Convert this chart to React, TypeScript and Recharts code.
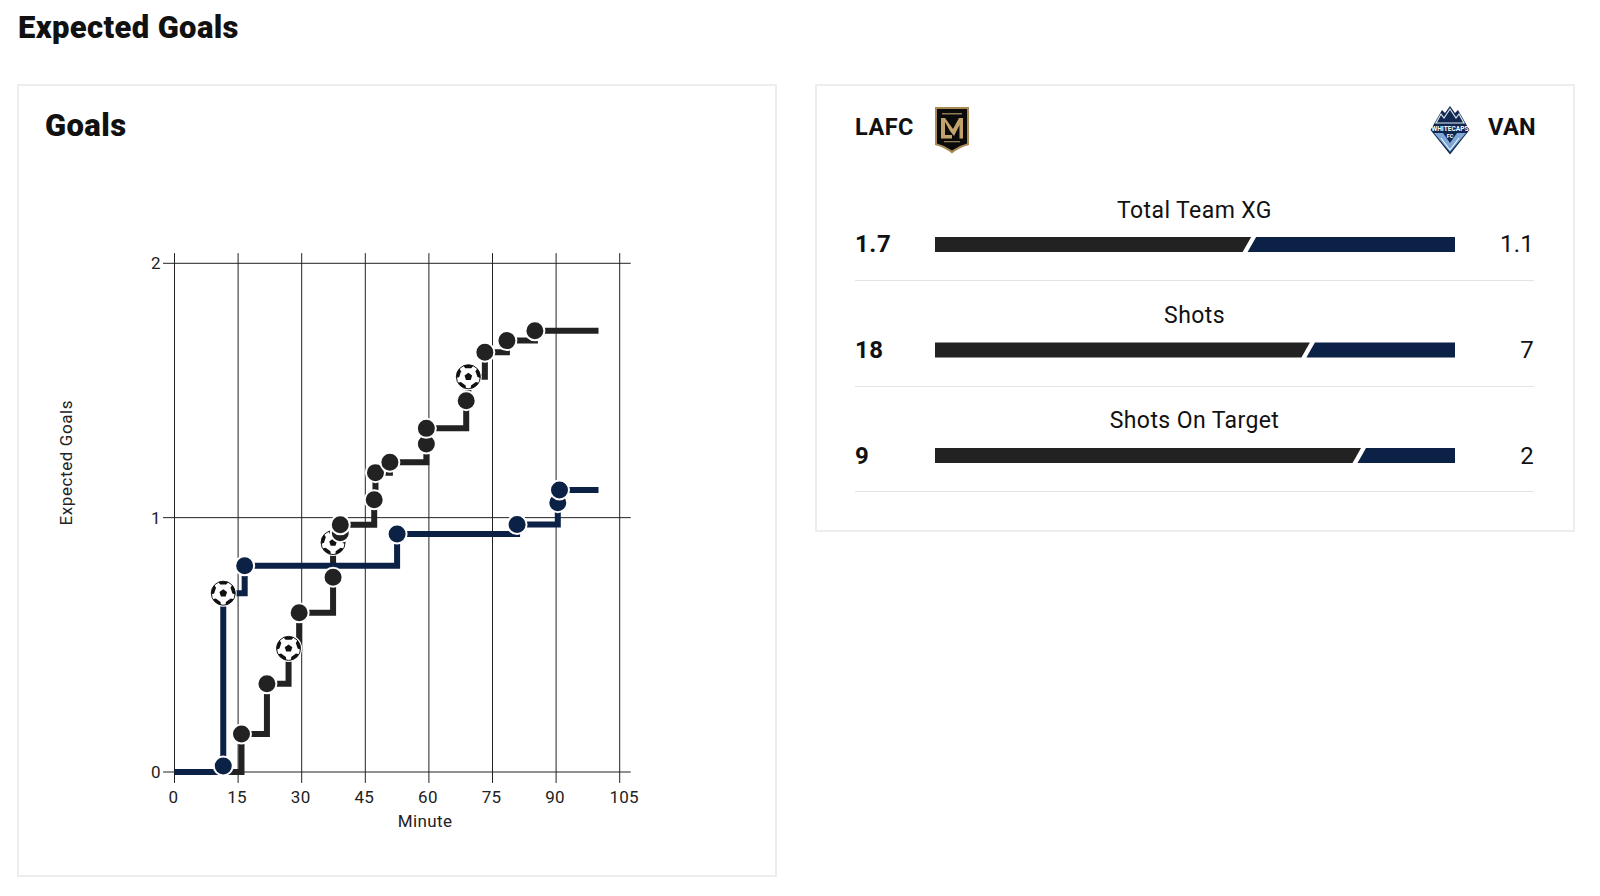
import React from "react";
import { Bar, BarChart, Line, LineChart, ReferenceLine, XAxis, YAxis } from "recharts";

const FONT = "Roboto, sans-serif";
const BLACK = "#222222";
const NAVY = "#0b2145";

const xTicks = [0, 15, 30, 45, 60, 75, 90, 105];
const yTicks = [0, 1, 2];

const lafcMinutes = [0, 15.8, 21.8, 26.9, 29.4, 37.4, 37.4, 39.1, 39.1, 47.1, 47.4, 50.8, 59.4, 59.4, 68.8, 69.3, 73.2, 78.4, 85, 100];
const lafcXg = [0, 0.149, 0.347, 0.486, 0.626, 0.766, 0.902, 0.941, 0.972, 1.07, 1.177, 1.218, 1.29, 1.351, 1.46, 1.554, 1.65, 1.696, 1.735, 1.735];
const lafcGoalIdx = [3, 6, 15];

const vanMinutes = [0, 11.5, 11.5, 16.55, 52.5, 80.8, 90.4, 90.8, 100];
const vanXg = [0, 0.024, 0.703, 0.811, 0.936, 0.973, 1.059, 1.109, 1.109];
const vanGoalIdx = [2];

const statNames = ["Total Team XG", "Shots", "Shots On Target"];
const lafcStats = [1.7, 18, 9];
const vanStats = [1.1, 7, 2];
const lafcLabels = ["1.7", "18", "9"];
const vanLabels = ["1.1", "7", "2"];

const lafcData = lafcMinutes.map((minute, i) => ({ minute, xg: lafcXg[i], goal: lafcGoalIdx.includes(i), end: i === 0 || i === lafcMinutes.length - 1 }));
const vanData = vanMinutes.map((minute, i) => ({ minute, xg: vanXg[i], goal: vanGoalIdx.includes(i), end: i === 0 || i === vanMinutes.length - 1 }));
const statData = statNames.map((name, i) => ({ name, lafc: lafcStats[i], van: vanStats[i] }));

function Ball({ cx, cy }: { cx: number; cy: number }) {
  // five patches round the edge and one in the middle
  const patches = [0, 72, 144, 216, 288];
  return (
    <g transform={`translate(${cx},${cy})`}>
      <circle r={13.5} fill="#fff" />
      <circle r={12} fill="#fff" stroke="#1a1a1a" strokeWidth={1} />
      <path d="M0,-4 L3.8,-1.2 L2.4,3.2 L-2.4,3.2 L-3.8,-1.2 Z" fill="#111" />
      {patches.map((a) => (
        <path key={a} transform={`rotate(${a})`} d="M-5,-11 Q0,-13 5,-11 L3,-8.6 L-3,-8.6 Z" fill="#111" />
      ))}
    </g>
  );
}

function makeDot(color: string) {
  return function ShotDot(props: any) {
    const { cx, cy, payload, index } = props;
    if (payload.end) return <g key={index} />;
    if (payload.goal) return <Ball key={index} cx={cx} cy={cy} />;
    return <circle key={index} cx={cx} cy={cy} r={9.5} fill={color} stroke="#fff" strokeWidth={2} />;
  };
}

function MinuteTick(props: any) {
  const { x, y, payload } = props;
  // the last label sits a bit to the right of its line in the original
  const shift = payload.value === 105 ? 4.5 : -1;
  return (
    <text x={x + shift} y={y} dy={12} textAnchor="middle" fill="#222" fontSize={17} fontFamily={FONT} letterSpacing={0.3}>
      {payload.value}
    </text>
  );
}

// slanted end on the left part, slanted start on the right part
function LeftSlant(props: any) {
  const { x, y, width, height } = props;
  const r = x + width;
  return <polygon points={`${x},${y} ${r},${y} ${r - 8.5},${y + height} ${x},${y + height}`} fill={BLACK} />;
}

function RightSlant(props: any) {
  const { x, y, width, height } = props;
  const l = x + 5;
  return <polygon points={`${l},${y} ${x + width},${y} ${x + width},${y + height} ${l - 8.5},${y + height}`} fill={NAVY} />;
}

function LafcCrest() {
  return (
    <svg width={36} height={49} viewBox="0 0 36 49" style={{ position: "absolute", left: 934, top: 106 }}>
      <path d="M1,1 H35 V39 Q26,41 18,47.5 Q10,41 1,39 Z" fill="#a98a55" />
      <path d="M3,3 H33 V37.5 Q25,39.5 18,44.5 Q11,39.5 3,37.5 Z" fill="#0b0b0b" />
      <path d="M7,12 H11 V29 H18 V32.5 H7 Z" fill="#c3a36c" />
      <path d="M11,12 L19,23 L25,12 H29 V32.5 H25.5 V19 L20,30 L16,25 L11,16 Z" fill="#c3a36c" />
      <rect x={8} y={7} width={20} height={1.5} fill="#8f7a55" />
      <rect x={10} y={35} width={16} height={1.3} fill="#8f7a55" />
    </svg>
  );
}

function VanCrest() {
  return (
    <svg width={40} height={50} viewBox="0 0 40 50" style={{ position: "absolute", left: 1430, top: 105 }}>
      <path d="M20,1 L25,8 L28,5 L39.5,25 L20,49.5 L0.5,25 L12,5 L15,8 Z" fill="#10284f" />
      <path d="M20,4 L26,13 L29,9 L34,18 H6 L11,9 L14,13 Z" fill="none" stroke="#dfe7f2" strokeWidth={1.2} />
      <path d="M4,28 H36 L20,47 Z" fill="#7fa8d6" />
      <path d="M13,28 L20,38 L27,28 Z" fill="#10284f" />
      <path d="M11,33 L20,45 L29,33" fill="none" stroke="#fff" strokeWidth={1} />
      <text x={20} y={26} fontFamily={FONT} fontSize={6.6} fontWeight={700} fill="#fff" textAnchor="middle">WHITECAPS</text>
      <text x={20} y={33} fontFamily={FONT} fontSize={5.5} fontWeight={700} fill="#fff" textAnchor="middle">FC</text>
    </svg>
  );
}

function GoalsChart() {
  const tick = { fill: "#222", fontSize: 17, fontFamily: FONT };
  const line = "#222";
  return (
    <LineChart
      width={800}
      height={896}
      margin={{ top: 263.3, right: 180.3, bottom: 64, left: 54.5 }}
      style={{ position: "absolute", left: 0, top: 0 }}
    >
      <XAxis
        type="number"
        dataKey="minute"
        domain={[0, 105]}
        ticks={xTicks}
        interval={0}
        axisLine={false}
        tickLine={false}
        tickSize={11}
        tickMargin={8}
        tick={MinuteTick}
        height={60}
        allowDuplicatedCategory={false}
        label={{ value: "Minute", position: "insideBottom", offset: 5, dx: 28, fill: "#222", fontSize: 17, fontFamily: FONT, letterSpacing: 0.4 }}
      />
      <YAxis
        type="number"
        dataKey="xg"
        domain={[0, 2]}
        ticks={yTicks}
        interval={0}
        axisLine={false}
        tickLine={false}
        tickSize={11}
        tickMargin={3}
        tick={tick}
        width={120}
        label={{ value: "Expected Goals", angle: -90, position: "insideLeft", offset: 11, dy: -55, fill: "#222", fontSize: 17, fontFamily: FONT, letterSpacing: 0.6, style: { textAnchor: "middle" } }}
      />
      {yTicks.map((t) => (
        <ReferenceLine key={t} segment={[{ x: -2.7, y: t }, { x: 107.6, y: t }]} stroke={line} strokeWidth={1} ifOverflow="visible" />
      ))}
      {xTicks.map((t) => (
        <ReferenceLine key={t} segment={[{ x: t, y: -0.043 }, { x: t, y: 2.04 }]} stroke={line} strokeWidth={1} ifOverflow="visible" />
      ))}
      <Line data={lafcData} dataKey="xg" type="stepAfter" stroke={BLACK} strokeWidth={6} strokeLinejoin="miter" dot={makeDot(BLACK)} activeDot={false} isAnimationActive={false} />
      <Line data={vanData} dataKey="xg" type="stepAfter" stroke={NAVY} strokeWidth={6} strokeLinejoin="miter" dot={makeDot(NAVY)} activeDot={false} isAnimationActive={false} />
    </LineChart>
  );
}

function StatBars() {
  return (
    <BarChart
      width={520.7}
      height={316.5}
      data={statData}
      layout="vertical"
      stackOffset="expand"
      barSize={15}
      margin={{ top: 0, right: 0, bottom: 0, left: 0 }}
      style={{ position: "absolute", left: 934.8, top: 191.9 }}
    >
      <XAxis type="number" domain={[0, 1]} hide />
      <YAxis type="category" dataKey="name" hide />
      <Bar dataKey="lafc" stackId="s" shape={LeftSlant} isAnimationActive={false} />
      <Bar dataKey="van" stackId="s" shape={RightSlant} isAnimationActive={false} />
    </BarChart>
  );
}

const cardStyle: React.CSSProperties = { position: "absolute", border: "2px solid #ededed", boxSizing: "border-box", background: "#fff" };
const abs = (left: number, top: number, extra: React.CSSProperties = {}): React.CSSProperties => ({
  position: "absolute",
  left,
  top,
  lineHeight: 1,
  whiteSpace: "nowrap",
  color: "#111",
  ...extra,
});

export default function App() {
  return (
    <div style={{ position: "absolute", left: 0, top: 0, width: 1600, height: 896, background: "#fff", fontFamily: FONT, overflow: "hidden" }}>
      <div style={abs(18, 12, { fontSize: 31, fontWeight: 900, letterSpacing: 0.35 })}>Expected Goals</div>
      <div style={{ ...cardStyle, left: 17, top: 84, width: 760, height: 793 }} />
      <div style={{ ...cardStyle, left: 815, top: 84, width: 760, height: 448 }} />
      <div style={abs(45, 110, { fontSize: 31, fontWeight: 900, letterSpacing: 0.4 })}>Goals</div>
      <GoalsChart />

      <div style={abs(855, 116, { fontSize: 23.5, fontWeight: 700, letterSpacing: 0.5 })}>LAFC</div>
      <div style={abs(1488, 116, { fontSize: 23.5, fontWeight: 700, letterSpacing: 0.4 })}>VAN</div>
      <LafcCrest />
      <VanCrest />
      {statNames.map((name, i) => (
        <React.Fragment key={name}>
          <div style={abs(855, 198.5 + i * 105.3, { width: 679, textAlign: "center", fontSize: 23, letterSpacing: 0.4 })}>{name}</div>
          <div style={abs(855, 232 + i * 105.8, { fontSize: 24, fontWeight: 700, letterSpacing: 0.6 })}>{lafcLabels[i]}</div>
          <div style={abs(1434, 232 + i * 105.8, { width: 100, textAlign: "right", fontSize: 24, letterSpacing: 0.2 })}>{vanLabels[i]}</div>
          <div style={{ position: "absolute", left: 855, top: 280 + i * 105.5, width: 679, height: 1, background: "#e4e4e4" }} />
        </React.Fragment>
      ))}
      <StatBars />
    </div>
  );
}
